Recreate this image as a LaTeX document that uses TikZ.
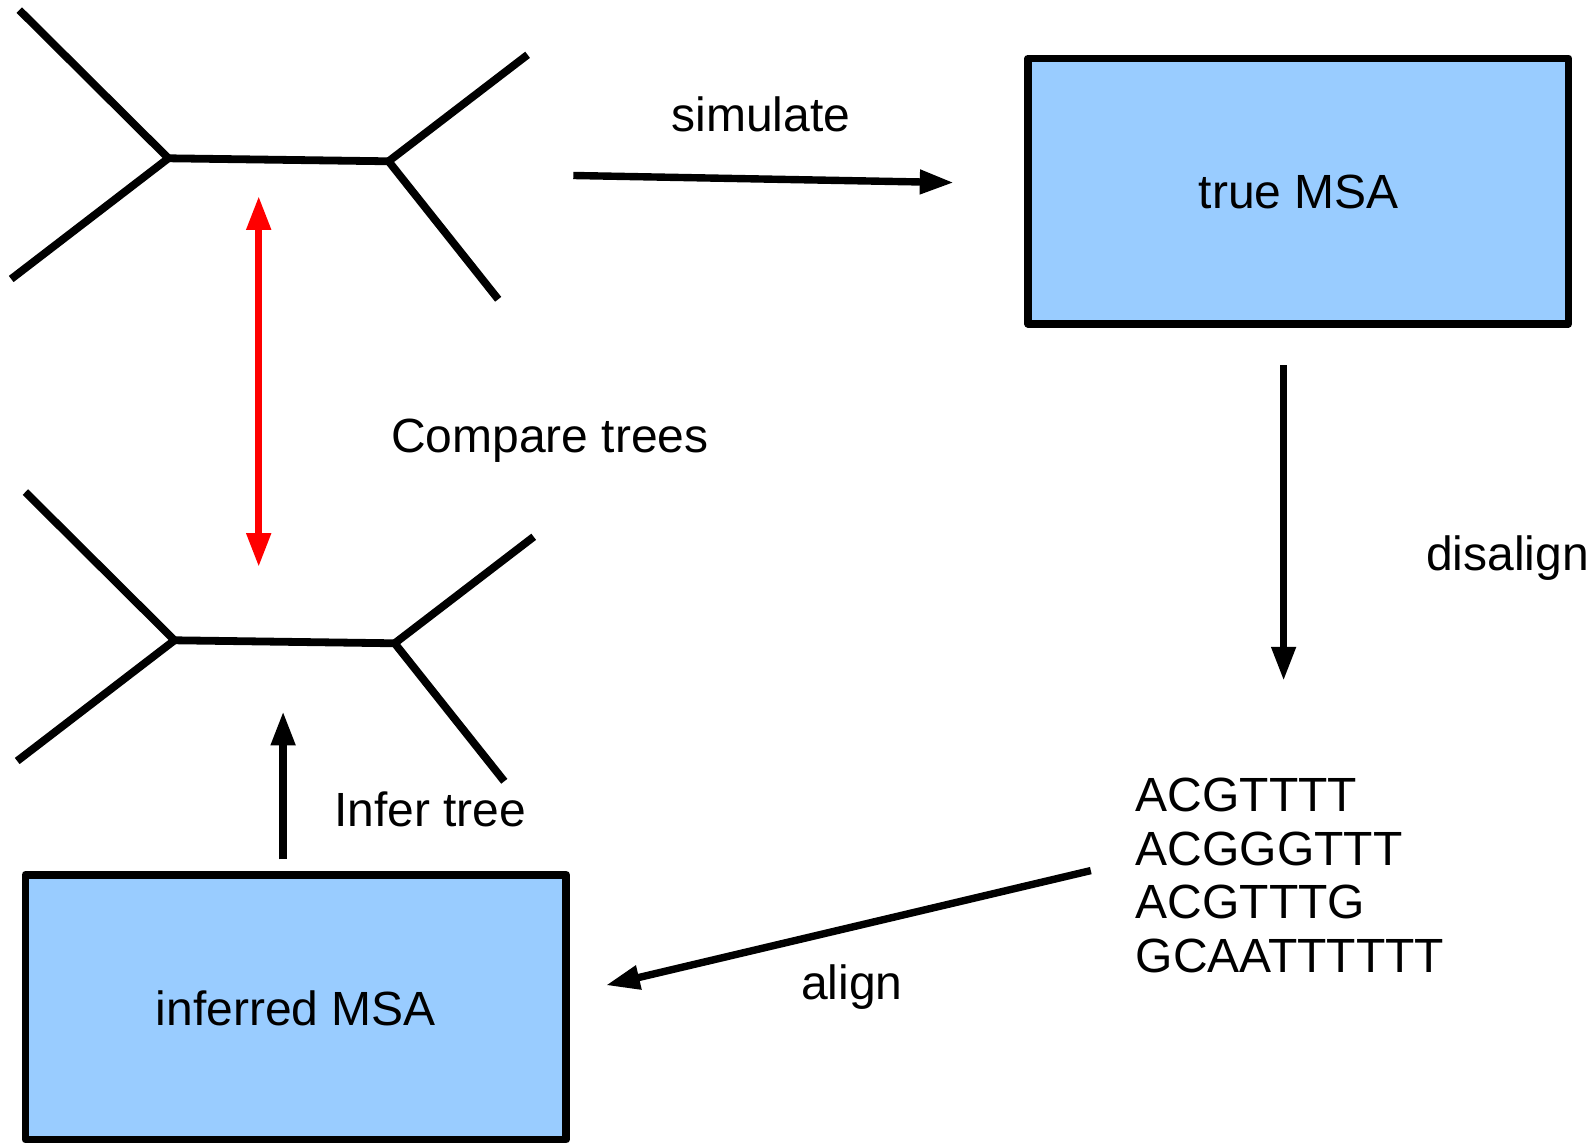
\documentclass[tikz,border=0pt]{standalone}
\usepackage{fontspec}
\setmainfont{Liberation Sans}
\usetikzlibrary{arrows.meta}
\definecolor{msablue}{HTML}{99CCFF}
\definecolor{cmpred}{HTML}{FF0000}
\begin{document}
\begin{tikzpicture}[x=0.5pt,y=-0.5pt,
  branch/.style={line width=3.9pt,line cap=butt,line join=miter},
  msabox/.style={draw=black,fill=msablue,line width=3.9pt,line join=round},
  flow/.style={line width=3.7pt,-{Triangle[length=17pt,width=11.5pt]}},
  cmp/.style={draw=cmpred,line width=3.7pt,{Triangle[length=17pt,width=11.5pt]}-{Triangle[length=17pt,width=11.5pt]}},
  lbl/.style={inner sep=0pt,font=\fontsize{24}{28}\selectfont}]
\useasboundingbox (0,0) rectangle (1591,1143);

% upper (true) tree
\coordinate (t1a) at (19.3,10.1);
\coordinate (t1b) at (11.2,279);
\coordinate (t1l) at (168.4,158.3);
\coordinate (t1r) at (388.6,161.3);
\coordinate (t1c) at (527.6,54.8);
\coordinate (t1d) at (498.2,299.3);
\draw[branch] (t1a) -- (t1l) -- (t1b);
\draw[branch] (t1l) -- (t1r);
\draw[branch] (t1c) -- (t1r) -- (t1d);

% lower (inferred) tree
\coordinate (t2a) at (25.4,492.1);
\coordinate (t2b) at (17.2,761);
\coordinate (t2l) at (174.5,640.3);
\coordinate (t2r) at (394.7,643.3);
\coordinate (t2c) at (533.7,536.8);
\coordinate (t2d) at (504.3,781.3);
\draw[branch] (t2a) -- (t2l) -- (t2b);
\draw[branch] (t2l) -- (t2r);
\draw[branch] (t2c) -- (t2r) -- (t2d);

% alignment boxes
\draw[msabox] (1028,58.5) rectangle (1568.5,323.7);
\node[lbl,anchor=base] (truemsa) at (1298.9,209) {true MSA};
\draw[msabox] (25.4,874.7) rectangle (566.2,1139.5);
\node[lbl,anchor=base] (infmsa) at (296,1025.9) {inferred MSA};

% unaligned sequences
\node[lbl,anchor=base west] (seqa) at (1135.4,811.8) {ACGTTTT};
\node[lbl,anchor=base west] (seqb) at (1135.4,865.5) {ACGGGTTT};
\node[lbl,anchor=base west] (seqc) at (1135.4,918.3) {ACGTTTG};
\node[lbl,anchor=base west] (seqd) at (1135.4,972.1) {GCAATTTTTT};

% step labels
\node[lbl,anchor=base] (simlbl) at (761,132) {simulate};
\node[lbl,anchor=base west] (cmplbl) at (390.6,452.5) {Compare trees};
\node[lbl,anchor=base west] (dislbl) at (1425.6,571) {disalign};
\node[lbl,anchor=base west] (inflbl) at (333.8,827) {Infer tree};
\node[lbl,anchor=base west] (alnlbl) at (800.6,999.5) {align};

% arrow end points
\coordinate (simS) at (573.3,175.5);
\coordinate (simE) at (953.8,182.6);
\coordinate (disS) at (1283.6,365.3);
\coordinate (disE) at (1283.6,680.9);
\coordinate (alnS) at (1090.8,870.6);
\coordinate (alnE) at (605.8,985.3);
\coordinate (infS) at (283.1,859.4);
\coordinate (infE) at (283.1,711.3);
\coordinate (cmpT) at (258.7,195.8);
\coordinate (cmpB) at (258.7,567.2);

\draw[flow] (simS) -- (simE);
\draw[flow] (disS) -- (disE);
\draw[flow] (alnS) -- (alnE);
\draw[flow] (infS) -- (infE);
\draw[cmp,fill=cmpred] (cmpT) -- (cmpB);
\end{tikzpicture}
\end{document}
